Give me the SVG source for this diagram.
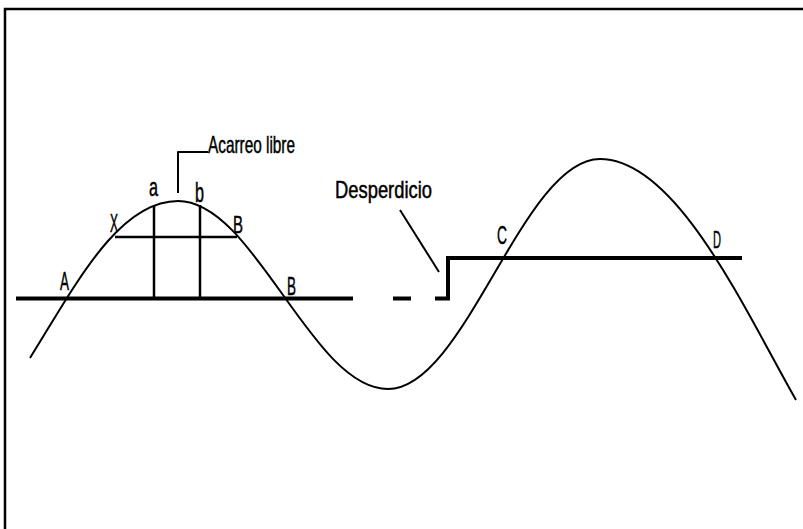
<svg xmlns="http://www.w3.org/2000/svg" width="803" height="529" viewBox="0 0 803 529">
<style>
.lbl{font-family:"Liberation Sans Narrow","Liberation Sans",sans-serif;fill:#000;stroke:#000;stroke-width:0.5;}
.thick{stroke:#000;stroke-width:4;fill:none;}
.med{stroke:#000;stroke-width:2.5;fill:none;}
.thin{stroke:#000;stroke-width:2;fill:none;stroke-linejoin:round;}
</style>
<rect x="0" y="0" width="803" height="529" fill="#fff"/>
<g id="frame">
<path class="med" d="M5,529 V9 H803"/>
</g>
<g id="curve">
<path class="thin" d="M30,358 C75,286 118,201 178,201 C254.5,201 311.5,389 388,389 C465.2,389 522.8,159 600,159 C677,159 746,312.5 796,400"/>
</g>
<g id="connectors">
<path class="thick" d="M16,298.5 H353"/>
<path class="thick" d="M393,298.5 H411"/>
<path class="thick" d="M435,298.5 H448 V258 H742"/>
<path class="med" d="M115,237 H237"/>
<path class="med" d="M154,206 V298"/>
<path class="med" d="M200,205 V298"/>
<path class="thin" d="M178,193 V152 H208"/>
<path class="thin" d="M400,210 L439,272"/>
</g>
<g id="labels">
<text id="lbl-acarreo" class="lbl" x="208" y="153" font-size="24" textLength="87" lengthAdjust="spacingAndGlyphs">Acarreo libre</text>
<text id="lbl-desperdicio" class="lbl" x="335" y="198" font-size="24" textLength="97" lengthAdjust="spacingAndGlyphs">Desperdicio</text>
<text id="lbl-A" class="lbl" x="60" y="290" font-size="26" textLength="9" lengthAdjust="spacingAndGlyphs">A</text>
<text id="lbl-X" class="lbl" x="110" y="232" font-size="25" textLength="8" lengthAdjust="spacingAndGlyphs">X</text>
<text id="lbl-a" class="lbl" x="149" y="196" font-size="26" textLength="9" lengthAdjust="spacingAndGlyphs">a</text>
<text id="lbl-b" class="lbl" x="195" y="202" font-size="27" textLength="9" lengthAdjust="spacingAndGlyphs">b</text>
<text id="lbl-B1" class="lbl" x="233" y="233" font-size="24" textLength="10" lengthAdjust="spacingAndGlyphs">B</text>
<text id="lbl-B2" class="lbl" x="287" y="295" font-size="26" textLength="9" lengthAdjust="spacingAndGlyphs">B</text>
<text id="lbl-C" class="lbl" x="497" y="244" font-size="26" textLength="10" lengthAdjust="spacingAndGlyphs">C</text>
<text id="lbl-D" class="lbl" x="713" y="248" font-size="23" textLength="8" lengthAdjust="spacingAndGlyphs">D</text>
</g>
</svg>
